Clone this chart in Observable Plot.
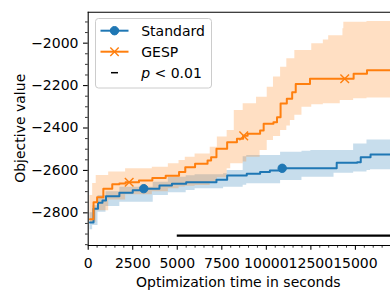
<!DOCTYPE html>
<html><head><meta charset="utf-8">
<script src="https://cdn.jsdelivr.net/npm/d3@7"></script>
<script src="https://cdn.jsdelivr.net/npm/@observablehq/plot@0.6"></script>
<style>
html,body{margin:0;padding:0;background:#fff;}
#chart{width:390px;height:294px;overflow:hidden;position:relative;}
#chart svg{display:block;}
</style></head><body><div id="chart"></div>
<script>
// ---- data ----
const seriesNames = ["Standard", "GESP"];
const sigLabel = "p < 0.01";
const xLabel = "Optimization time in seconds";
const yLabel = "Objective value";

const stdTime = [100, 300, 550, 800, 1000, 1750, 2500, 3100, 4000, 4700, 5500, 7200, 7800, 8900, 9650, 10200, 10850, 13950, 15100, 15300, 15850, 17000];
const stdMean = [-2845, -2781, -2752, -2742, -2722, -2705, -2693, -2686, -2671, -2663, -2656, -2644, -2624, -2616, -2608, -2600, -2590, -2564, -2561, -2538, -2525, -2525];
const stdBandTime = [100, 250, 550, 1000, 1775, 3650, 4500, 5500, 6000, 7600, 7800, 8700, 8900, 10800, 12000, 12500, 13800, 14900, 15650, 15850, 17000];
const stdHigh = [-2800, -2766, -2718, -2700, -2679, -2656, -2632, -2625, -2620, -2616, -2600, -2535, -2530, -2514, -2510, -2506, -2506, -2475, -2456, -2456, -2451];
const stdLow = [-2880, -2860, -2797, -2770, -2750, -2718, -2705, -2695, -2687, -2679, -2679, -2670, -2663, -2648, -2632, -2632, -2613, -2608, -2600, -2597, -2592];
const stdMarkerTime = [3120, 10890];

const gespTime = [100, 300, 500, 850, 1350, 1750, 2100, 2850, 3600, 4350, 5100, 5450, 6000, 6700, 6900, 7200, 7800, 8350, 8700, 8950, 9650, 9850, 10400, 10600, 10800, 11150, 11450, 11650, 12450, 14900, 15650, 17000];
const gespMean = [-2830, -2750, -2726, -2687, -2665, -2662, -2656, -2648, -2636, -2625, -2608, -2585, -2569, -2553, -2538, -2498, -2467, -2451, -2437, -2427, -2412, -2380, -2373, -2349, -2285, -2262, -2231, -2192, -2168, -2144, -2128, -2128];
const gespBandTime = [100, 250, 450, 1150, 2100, 3600, 4500, 5100, 5450, 6000, 6850, 7250, 7800, 8000, 8200, 8700, 8900, 9450, 9650, 10050, 10400, 10800, 11150, 11350, 11600, 12000, 12550, 13200, 13500, 14150, 14300, 14350, 14900, 15650, 17000];
const gespHigh = [-2718, -2662, -2624, -2608, -2592, -2585, -2569, -2553, -2538, -2522, -2491, -2443, -2412, -2412, -2318, -2286, -2286, -2255, -2255, -2208, -2160, -2113, -2074, -2074, -2034, -2034, -2003, -1985, -1965, -1965, -1932, -1901, -1901, -1898, -1893];
const gespLow = [-2850, -2844, -2790, -2740, -2715, -2700, -2686, -2678, -2675, -2671, -2655, -2635, -2592, -2569, -2569, -2560, -2538, -2538, -2506, -2459, -2440, -2412, -2390, -2365, -2340, -2302, -2290, -2286, -2286, -2270, -2270, -2270, -2262, -2258, -2258];
const gespMarkerTime = [2300, 8730, 14400];

const sigStart = 5000;
const sigValue = -2907;

const xTicks = [0, 2500, 5000, 7500, 10000, 12500, 15000];
const xMinorTicks = d3.range(0, 17000, 500).filter(v => v % 2500 !== 0);
const yTicks = [-2800, -2600, -2400, -2200, -2000];
const yMinorTicks = d3.range(-2950, -1850, 50).filter(v => v % 200 !== 0);

const xDomain = [0, 16970];
const yDomain = [-2954, -1854];

// ---- helpers ----
const blue = "#1f77b4", orange = "#ff7f0e";
const rows = (t, v) => t.map((d, i) => ({t: d, v: v[i]}));
const bandRows = (t, lo, hi) => t.map((d, i) => ({t: d, lo: lo[i], hi: hi[i]}));
function stepAt(times, values, x) {
  let v = values[0];
  for (let i = 0; i < times.length; i++) if (times[i] <= x) v = values[i];
  return v;
}
const stdMarks = stdMarkerTime.map(t => ({t, v: stepAt(stdTime, stdMean, t)}));
const gespMarks = gespMarkerTime.map(t => ({t, v: stepAt(gespTime, gespMean, t)}));

const font = "DejaVu Sans";
const fs = 14;
const fmt = d3.format("d");

const plot = Plot.plot({
  width: 390, height: 294,
  marginLeft: 87.7, marginRight: 0, marginTop: 11.7, marginBottom: 49,
  style: {fontFamily: font, fontSize: fs + "px", color: "#000", background: "#fff"},
  x: {domain: xDomain, axis: null},
  y: {domain: yDomain, axis: null},
  marks: [
    Plot.areaY(bandRows(stdBandTime, stdLow, stdHigh), {x: "t", y1: "lo", y2: "hi", fill: blue, fillOpacity: 0.25, curve: "step-after", clip: true}),
    Plot.areaY(bandRows(gespBandTime, gespLow, gespHigh), {x: "t", y1: "lo", y2: "hi", fill: orange, fillOpacity: 0.25, curve: "step-after", clip: true}),
    Plot.line(rows(stdTime, stdMean), {x: "t", y: "v", stroke: blue, strokeWidth: 2, curve: "step-after", clip: true}),
    Plot.line(rows(gespTime, gespMean), {x: "t", y: "v", stroke: orange, strokeWidth: 2, curve: "step-after", clip: true}),
    Plot.dot(stdMarks, {x: "t", y: "v", r: 4.2, fill: blue, stroke: blue, strokeWidth: 1}),
    Plot.dot(gespMarks, {x: "t", y: "v", r: 4, symbol: "times", stroke: orange, strokeWidth: 1.4}),
    Plot.ruleY([sigValue], {x1: sigStart, x2: xDomain[1], stroke: "#000", strokeWidth: 2.2}),
    Plot.ruleX([xDomain[0]], {stroke: "#000", strokeWidth: 1.07}),
    Plot.ruleY([yDomain[0]], {stroke: "#000", strokeWidth: 1.07}),
    Plot.ruleY([yDomain[1]], {stroke: "#000", strokeWidth: 1.07}),
    Plot.axisX(xMinorTicks, {tickSize: 2.7, tickFormat: () => "", label: null, strokeWidth: 0.8}),
    Plot.axisX(xTicks, {tickSize: 4.7, tickFormat: () => "", label: null, strokeWidth: 1.07}),
    Plot.axisY(yMinorTicks, {tickSize: 2.7, tickFormat: () => "", label: null, strokeWidth: 0.8}),
    Plot.axisY(yTicks, {tickSize: 4.7, tickFormat: () => "", label: null, strokeWidth: 1.07}),
    Plot.text(xTicks, {x: d => d, text: d => fmt(d), frameAnchor: "bottom", dy: 12.3, lineAnchor: "top", textAnchor: "middle", fontSize: fs, fontFamily: font, fill: "#000"}),
    Plot.text(yTicks, {y: d => d, text: d => fmt(d), frameAnchor: "left", dx: -9.7, lineAnchor: "middle", textAnchor: "end", fontSize: fs, fontFamily: font, fill: "#000"})
  ]
});
document.getElementById("chart").appendChild(plot);

// ---- axis labels & legend ----
const svg = d3.select(plot);
svg.append("text").attr("x", 238.3).attr("y", 286.7).attr("text-anchor", "middle")
  .style("font-family", font).style("font-size", fs + "px").attr("fill", "#000").text(xLabel);
svg.append("text").attr("transform", "translate(24.5,128.3) rotate(-90)").attr("text-anchor", "middle")
  .style("font-family", font).style("font-size", fs + "px").attr("fill", "#000").text(yLabel);

const lg = svg.append("g");
lg.append("rect").attr("x", 95.5).attr("y", 18.5).attr("width", 116).attr("height", 69.5).attr("rx", 3)
  .attr("fill", "#fff").attr("fill-opacity", 0.8).attr("stroke", "#cccccc").attr("stroke-width", 1);
const rowsY = [30.7, 51.7, 72.7];
const legColors = [blue, orange];
seriesNames.forEach((name, i) => {
  const y = rowsY[i];
  lg.append("line").attr("x1", 100.5).attr("x2", 128.5).attr("y1", y).attr("y2", y)
    .attr("stroke", legColors[i]).attr("stroke-width", 2);
  if (i === 0) {
    lg.append("circle").attr("cx", 114.5).attr("cy", y).attr("r", 4.2).attr("fill", blue).attr("stroke", blue);
  } else {
    const s = 4.2;
    lg.append("path").attr("d", `M${114.5 - s},${y - s}L${114.5 + s},${y + s}M${114.5 - s},${y + s}L${114.5 + s},${y - s}`)
      .attr("stroke", orange).attr("stroke-width", 1.4);
  }
  lg.append("text").attr("x", 141.2).attr("y", y + 5.1).attr("text-anchor", "start")
    .style("font-family", font).style("font-size", fs + "px").attr("fill", "#000").text(name);
});
lg.append("line").attr("x1", 111).attr("x2", 118).attr("y1", rowsY[2]).attr("y2", rowsY[2])
  .attr("stroke", "#000").attr("stroke-width", 1.5);
const t3 = lg.append("text").attr("x", 141.2).attr("y", rowsY[2] + 5.1).attr("text-anchor", "start")
  .style("font-family", font).style("font-size", fs + "px").attr("fill", "#000");
const parts = sigLabel.split(" ");
t3.append("tspan").attr("font-style", "italic").text(parts[0]);
t3.append("tspan").text(" " + parts.slice(1).join(" "));
</script></body></html>
